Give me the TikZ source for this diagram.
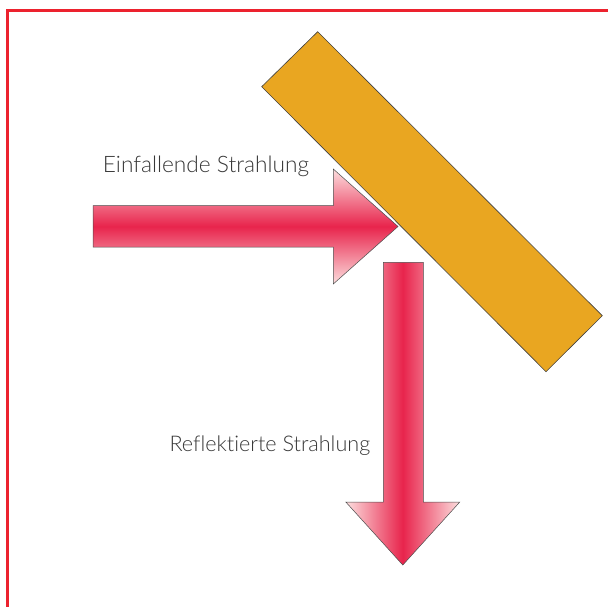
\documentclass[tikz,border=0pt]{standalone}
\usepackage{fontspec}
\setmainfont{Lato}[UprightFont={* Light}, Ligatures={NoCommon}]
\definecolor{framered}{RGB}{236,34,46}
\definecolor{mirror}{RGB}{233,166,33}
\definecolor{beamred}{RGB}{232,36,76}
\definecolor{beamlight}{RGB}{252,222,222}
\definecolor{txt}{RGB}{55,55,55}
\tikzset{
  beamline/.style={draw=black!70, line width=0.5pt, line join=miter},
  hbeam/.style={beamline, top color=beamlight, bottom color=beamlight, middle color=beamred},
  vbeam/.style={beamline, left color=beamlight, right color=beamlight, middle color=beamred},
  mirrorbox/.style={draw=black!75, line width=0.6pt, fill=mirror},
  lbl/.style={anchor=base west, inner sep=0pt, text=txt, font=\fontsize{22.7}{27}\selectfont}
}
\begin{document}
\begin{tikzpicture}[x=1pt,y=-1pt]
\useasboundingbox (0,0) rectangle (608,607);
% frame
\draw[framered, line width=3pt] (7.3,608) -- (7.3,11) -- (609,11);
% mirror
\coordinate (m1) at (261.7,86.7);
\coordinate (m2) at (317.7,31.7);
\coordinate (m3) at (602.3,315.7);
\coordinate (m4) at (546,371.7);
\draw[mirrorbox] (m1) -- (m2) -- (m3) -- (m4) -- cycle;
% incident beam
\draw[hbeam] (93,205.5) -- (333.3,205.5) -- (333.3,169) -- (398,226.5) -- (333.3,284) -- (333.3,247) -- (93,247) -- cycle;
% reflected beam
\draw[vbeam] (383.3,262.3) -- (423.3,262.3) -- (423.3,502) -- (459.8,502) -- (402.8,565) -- (345.8,502) -- (383.3,502) -- cycle;
% labels
\node[lbl] (inc) at (102.7,172.3) {Einfallende Strahlung};
\node[lbl, font=\fontsize{21.6}{26}\selectfont] (ref) at (169.3,451.7) {Reflektierte Strahlung};
\end{tikzpicture}
\end{document}
